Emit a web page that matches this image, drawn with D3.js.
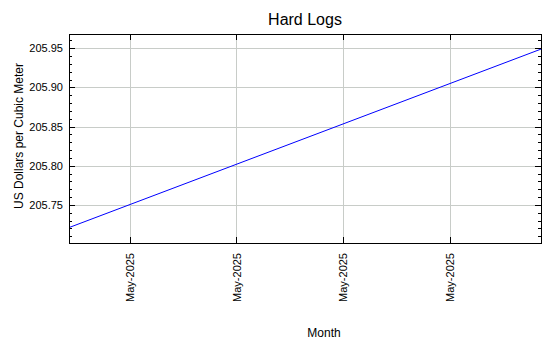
<!DOCTYPE html>
<html>
<head>
<meta charset="utf-8">
<script src="https://cdn.jsdelivr.net/npm/d3@7"></script>
<style>
  body { margin: 0; background: #fff; }
  text { font-family: "Liberation Sans", Arial, sans-serif; fill: #000; }
</style>
</head>
<body>
<div id="chart"></div>
<script>
// Hard Logs price, two monthly observations
const dates = ['2025-05-01', '2025-06-01'];
const prices = [205.721, 205.949];
const yTicks = [205.75, 205.80, 205.85, 205.90, 205.95];

const width = 550, height = 350;
const margin = { top: 34, right: 9, bottom: 107, left: 69 };
const x0 = margin.left, x1 = width - margin.right;
const y0 = margin.top, y1 = height - margin.bottom;

const parse = d3.timeParse('%Y-%m-%d');
const data = dates.map((d, i) => ({ date: parse(d), value: prices[i] }));

const x = d3.scaleTime().domain(d3.extent(data, d => d.date)).range([x0, x1]);
const y = d3.scaleLinear().domain([205.7013, 205.9683]).range([y1, y0]);

const xTicks = x.ticks(d3.timeMonday.every(1));
const yMinor = d3.range(205.71, 205.965, 0.01).map(v => +v.toFixed(2));

const svg = d3.select('#chart').append('svg')
  .attr('width', width).attr('height', height);

// grid
const grid = svg.append('g').attr('shape-rendering', 'crispEdges');
grid.selectAll('.gx').data(xTicks).join('line')
  .attr('x1', d => Math.round(x(d)) + 0.5).attr('x2', d => Math.round(x(d)) + 0.5)
  .attr('y1', y0).attr('y2', y1)
  .attr('stroke', '#c8ccc8');
grid.selectAll('.gy').data(yTicks).join('line')
  .attr('y1', d => Math.round(y(d)) + 0.5).attr('y2', d => Math.round(y(d)) + 0.5)
  .attr('x1', x0).attr('x2', x1)
  .attr('stroke', '#c8ccc8');

// line
svg.append('path')
  .datum(data)
  .attr('fill', 'none')
  .attr('stroke', '#0000ff')
  .attr('stroke-width', 1)
  .attr('d', d3.line().x(d => x(d.date)).y(d => y(d.value)));

// axes with inward ticks
const ax = svg.append('g').attr('shape-rendering', 'crispEdges');
ax.append('g').attr('transform', `translate(0,${y1})`)
  .call(d3.axisBottom(x).tickValues(xTicks).tickSize(-6).tickFormat(d3.timeFormat('%b-%Y')))
  .call(g => g.select('.domain').remove())
  .call(g => g.selectAll('text')
    .attr('transform', 'rotate(-90)')
    .attr('x', -10).attr('y', 0).attr('dy', '0.35em')
    .style('text-anchor', 'end')
    .style('font-size', '11px'));
ax.append('g').attr('transform', `translate(0,${y0})`)
  .call(d3.axisTop(x).tickValues(xTicks).tickSize(-6).tickFormat(''))
  .call(g => g.select('.domain').remove());

ax.append('g').attr('transform', `translate(${x0},0)`)
  .call(d3.axisLeft(y).tickValues(yMinor).tickSize(-3).tickFormat(''))
  .call(g => g.select('.domain').remove());
ax.append('g').attr('transform', `translate(${x0},0)`)
  .call(d3.axisLeft(y).tickValues(yTicks).tickSize(-6).tickFormat(d3.format('.2f')))
  .call(g => g.select('.domain').remove())
  .call(g => g.selectAll('text').attr('x', -6).style('font-size', '11px'));
ax.append('g').attr('transform', `translate(${x1},0)`)
  .call(d3.axisRight(y).tickValues(yMinor).tickSize(-3).tickFormat(''))
  .call(g => g.select('.domain').remove());
ax.append('g').attr('transform', `translate(${x1},0)`)
  .call(d3.axisRight(y).tickValues(yTicks).tickSize(-6).tickFormat(''))
  .call(g => g.select('.domain').remove());

svg.append('rect')
  .attr('x', x0 + 0.5).attr('y', y0 + 0.5)
  .attr('width', x1 - x0).attr('height', y1 - y0)
  .attr('fill', 'none').attr('stroke', '#000')
  .attr('shape-rendering', 'crispEdges');

// titles
svg.append('text')
  .attr('x', (x0 + x1) / 2).attr('y', 25)
  .attr('text-anchor', 'middle')
  .style('font-size', '16px')
  .text('Hard Logs');

svg.append('text')
  .attr('x', 324).attr('y', 337)
  .attr('text-anchor', 'middle')
  .style('font-size', '12px')
  .text('Month');

svg.append('text')
  .attr('transform', 'translate(23,136) rotate(-90)')
  .attr('text-anchor', 'middle')
  .style('font-size', '12px')
  .text('US Dollars per Cubic Meter');
</script>
</body>
</html>
